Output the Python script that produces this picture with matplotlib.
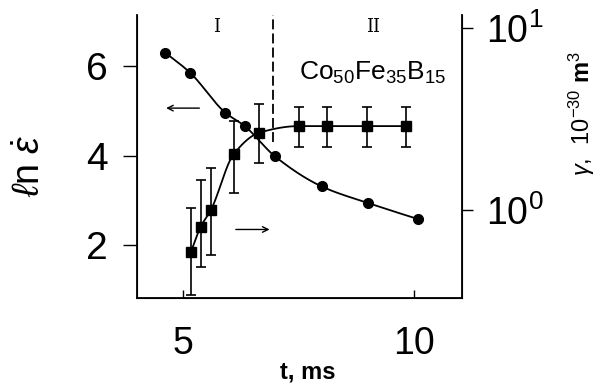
import numpy as np
import matplotlib
matplotlib.use("Agg")
import matplotlib.pyplot as plt
from matplotlib.ticker import FixedLocator, NullLocator, LogFormatterSciNotation

plt.rcParams['font.family'] = ['Liberation Sans', 'DejaVu Sans']
plt.rcParams['mathtext.fontset'] = 'custom'
plt.rcParams['mathtext.rm'] = 'Liberation Sans'
plt.rcParams['mathtext.it'] = 'Liberation Sans:italic'
plt.rcParams['mathtext.bf'] = 'Liberation Sans:bold'

# strain-rate data (left axis, circles)
t_circ = [4.61, 5.15, 5.91, 6.33, 6.99, 8.00, 9.00, 10.09]
ln_rate = [6.30, 5.85, 4.96, 4.66, 3.98, 3.31, 2.94, 2.58]

# activation volume data (right log axis, squares)
t_sq = [5.17, 5.38, 5.60, 6.09, 6.65, 7.50, 8.12, 8.99, 9.82]
gamma = [0.59, 0.81, 1.00, 2.02, 2.66, 2.89, 2.89, 2.89, 2.89]
gamma_lo = [0.341, 0.488, 0.566, 1.24, 1.82, 2.23, 2.23, 2.23, 2.23]
gamma_hi = [1.03, 1.46, 1.69, 3.08, 3.81, 3.69, 3.69, 3.69, 3.69]

x_ticks = [5, 10]
left_ticks = [2, 4, 6]
right_ticks = [1, 10]


def pchip(x, y, xn):
    x = np.asarray(x, float); y = np.asarray(y, float)
    h = np.diff(x); d = np.diff(y) / h
    m = np.zeros_like(y)
    for k in range(1, len(x) - 1):
        if d[k - 1] * d[k] > 0:
            w1 = 2 * h[k] + h[k - 1]; w2 = h[k] + 2 * h[k - 1]
            m[k] = (w1 + w2) / (w1 / d[k - 1] + w2 / d[k])
    m[0] = d[0]; m[-1] = d[-1]
    idx = np.clip(np.searchsorted(x, xn) - 1, 0, len(x) - 2)
    hh = h[idx]; s = (xn - x[idx]) / hh
    h00 = 2 * s**3 - 3 * s**2 + 1; h10 = s**3 - 2 * s**2 + s
    h01 = -2 * s**3 + 3 * s**2; h11 = s**3 - s**2
    return h00 * y[idx] + h10 * hh * m[idx] + h01 * y[idx + 1] + h11 * hh * m[idx + 1]


fig = plt.figure(figsize=(6.01, 3.84), dpi=100)
ax = fig.add_axes([0.228, 0.224, 0.541, 0.737])
ax2 = ax.twinx()

ax.set_xlim(4.0, 11.04)
ax.set_ylim(0.82, 7.14)
ax2.set_yscale('log')
ax2.set_ylim(0.328, 11.8)

# circle curve
xs = np.linspace(t_circ[0], t_circ[-1], 300)
ax.plot(xs, pchip(t_circ, ln_rate, xs), color='black', lw=1.3)
ax.plot(t_circ, ln_rate, 'o', color='black', ms=7)

# square curve
xs2 = np.linspace(t_sq[0], t_sq[-1], 300)
ax2.plot(xs2, 10 ** pchip(t_sq, np.log10(gamma), xs2), color='black', lw=1.3)
g = np.array(gamma)
yerr = [g - np.array(gamma_lo), np.array(gamma_hi) - g]
ax2.errorbar(t_sq, gamma, yerr=yerr, fmt='s', color='black', ms=7.5,
             capsize=3.5, elinewidth=1.2, capthick=1.2)

# dashed divider
ax.plot([6.95, 6.95], [4.3, 7.14], color='black', lw=1.3, dashes=(5.5, 2.3))

# text
ax.text(5.72, 6.87, 'I', ha='center', va='center', fontsize=13, family='DejaVu Serif')
ax.text(9.11, 6.87, 'II', ha='center', va='center', fontsize=13, family='DejaVu Serif')
ax.text(9.11, 5.84, r'Co$_{50}$Fe$_{35}$B$_{15}$', ha='center', va='center', fontsize=19)

# arrows
ax.annotate('', xy=(4.57, 5.06), xytext=(5.41, 5.06),
            arrowprops=dict(arrowstyle='->', color='black', lw=1.0))
ax.annotate('', xy=(6.93, 2.35), xytext=(6.08, 2.35),
            arrowprops=dict(arrowstyle='->', color='black', lw=1.0))

# spines and ticks
ax.spines['top'].set_visible(False)
ax2.spines['top'].set_visible(False)
for sp in ['left', 'bottom']:
    ax.spines[sp].set_linewidth(1.3)
ax2.spines['right'].set_linewidth(1.3)

ax.xaxis.set_major_locator(FixedLocator(x_ticks))
ax.yaxis.set_major_locator(FixedLocator(left_ticks))
ax2.yaxis.set_major_locator(FixedLocator(right_ticks))
ax2.yaxis.set_minor_locator(NullLocator())
ax2.yaxis.set_major_formatter(LogFormatterSciNotation())

ax.tick_params(axis='x', direction='in', length=6, width=1, labelsize=27, pad=20)
ax.tick_params(axis='y', direction='out', length=10, width=1, labelsize=28, pad=11)
ax2.tick_params(axis='y', direction='out', length=8, width=1, labelsize=27, pad=9)

# axis labels
fig.text(308 / 601, 6 / 384, 't, ms', ha='center', va='baseline',
         fontsize=17, fontweight='bold')
fig.text(30 / 601, 1 - 166 / 384, r'$\ell$n $\dot{\varepsilon}$', rotation=90,
         ha='center', va='center', fontsize=27)
fig.text(582 / 601, 1 - 114 / 384, r'$\gamma$,  10$^{-30}$ $\mathbf{m}^3$', rotation=90,
         ha='center', va='center', fontsize=17)

fig.savefig('out.png', dpi=100)
